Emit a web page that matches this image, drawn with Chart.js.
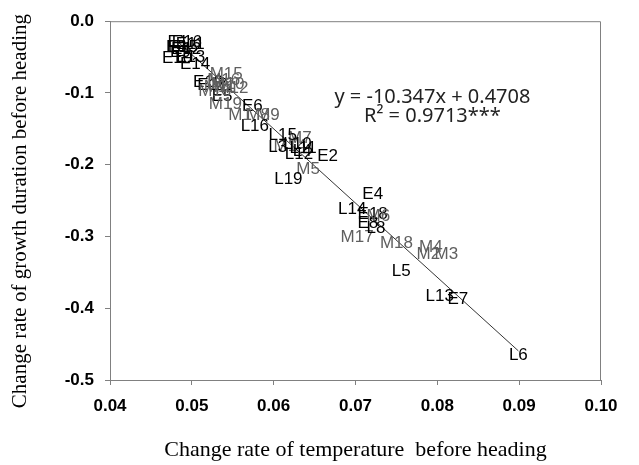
<!DOCTYPE html>
<html>
<head>
<meta charset="utf-8">
<script src="https://cdn.jsdelivr.net/npm/chart.js@4"></script>
<style>
  html, body { margin: 0; padding: 0; background: #fff; }
  #wrap { width: 639px; height: 465px; position: relative; }
</style>
</head>
<body>
<div id="wrap"><canvas id="chart_growthVsTemp"></canvas></div>
<script>
// early-heading group (black labels)
var eNames = ['E1','E16','E15','E3','E11','E12','E9','E13','E10','E14','E19','E17','E5','E6','E2','E4','E18','E8','E7'];
var eX = [0.0483,0.0494,0.0489,0.0481,0.0498,0.0493,0.0486,0.0498,0.0482,0.0504,0.0520,0.0525,0.0537,0.0574,0.0666,0.0721,0.0721,0.0715,0.0825];
var eY = [-0.0291,-0.0291,-0.0360,-0.0360,-0.0319,-0.0388,-0.0429,-0.0499,-0.0512,-0.0596,-0.0845,-0.0900,-0.1053,-0.1191,-0.1884,-0.2410,-0.2687,-0.2812,-0.3878];

// mid group (grey labels)
var mNames = ['M15','M16','M10','M11','M12','M13','M19','M1','M8','M9','M7','M14','M5','M6','M17','M18','M4','M2','M3'];
var mX = [0.0542,0.0539,0.0544,0.0534,0.0549,0.0528,0.0541,0.0559,0.0581,0.0593,0.0632,0.0620,0.0642,0.0728,0.0702,0.0750,0.0792,0.0789,0.0811];
var mY = [-0.0734,-0.0817,-0.0873,-0.0928,-0.0942,-0.0983,-0.1163,-0.1316,-0.1316,-0.1316,-0.1634,-0.1745,-0.2064,-0.2715,-0.3006,-0.3089,-0.3144,-0.3255,-0.3255];

// late group (black labels)
var lNames = ['L16','L15','L3','L10','L11','L12','L4','L19','L14','L8','L5','L13','L6'];
var lX = [0.0577,0.0611,0.0605,0.0629,0.0636,0.0631,0.0635,0.0618,0.0696,0.0725,0.0756,0.0803,0.0899];
var lY = [-0.1468,-0.1593,-0.1759,-0.1717,-0.1773,-0.1856,-0.1814,-0.2202,-0.2618,-0.2881,-0.3490,-0.3837,-0.4654];

// regression from the figure
var slope = -10.347;
var intercept = 0.4708;
var eqLine1 = 'y = -10.347x + 0.4708';
var eqLine2 = 'R\u00b2 = 0.9713***';
var eqPos = [0.0794, -0.1066, -0.1330];

function toPoints(xs, ys) {
    return xs.map(function (x, i) { return { x: x, y: ys[i] }; });
}

var allX = eX.concat(mX, lX);
var xLo = Math.min.apply(null, allX);
var xHi = Math.max.apply(null, allX);

var labelPlugin = {
    id: 'pointLabels',
    afterDatasetsDraw: function (chart) {
        var ctx = chart.ctx;
        ctx.save();
        ctx.font = '17px "Liberation Sans", Arial, sans-serif';
        ctx.textAlign = 'center';
        ctx.textBaseline = 'middle';
        chart.data.datasets.forEach(function (ds, i) {
            if (!ds.names) return;
            var meta = chart.getDatasetMeta(i);
            ctx.fillStyle = ds.labelColor;
            meta.data.forEach(function (pt, j) {
                ctx.fillText(ds.names[j], pt.x, pt.y);
            });
        });
        // equation box
        var xs = chart.scales.x, ys = chart.scales.y;
        ctx.fillStyle = '#222';
        ctx.font = '20px "Noto Sans", sans-serif';
        ctx.fillText(eqLine1, xs.getPixelForValue(eqPos[0]), ys.getPixelForValue(eqPos[1]));
        ctx.fillText(eqLine2, xs.getPixelForValue(eqPos[0]), ys.getPixelForValue(eqPos[2]));
        // frame
        var a = chart.chartArea;
        ctx.strokeStyle = '#808080';
        ctx.lineWidth = 1;
        ctx.beginPath();
        ctx.moveTo(a.left, a.top + 0.5);
        ctx.lineTo(a.right - 0.5, a.top + 0.5);
        ctx.lineTo(a.right - 0.5, a.bottom);
        ctx.stroke();
        ctx.restore();
    }
};

var chart_growthVsTemp = new Chart(document.getElementById('chart_growthVsTemp'), {
    type: 'scatter',
    data: {
        datasets: [
            {
                type: 'line',
                label: 'trend',
                data: [
                    { x: xLo, y: slope * xLo + intercept },
                    { x: xHi, y: slope * xHi + intercept }
                ],
                borderColor: '#000',
                borderWidth: 0.8,
                pointRadius: 0,
                fill: false
            },
            { label: 'E', names: eNames, labelColor: '#000', data: toPoints(eX, eY), pointRadius: 0 },
            { label: 'M', names: mNames, labelColor: '#5f5f5f', data: toPoints(mX, mY), pointRadius: 0 },
            { label: 'L', names: lNames, labelColor: '#000', data: toPoints(lX, lY), pointRadius: 0 }
        ]
    },
    options: {
        animation: false,
        responsive: true,
        maintainAspectRatio: false,
        layout: { padding: { top: 19, right: 38, left: 0, bottom: 0 } },
        plugins: {
            legend: { display: false },
            tooltip: { enabled: false }
        },
        scales: {
            x: {
                type: 'linear',
                min: 0.04,
                max: 0.10,
                afterFit: function (scale) { scale.height = 85; },
                border: { color: '#808080', width: 1 },
                grid: { drawOnChartArea: false, drawTicks: true, tickLength: 5, color: '#808080' },
                ticks: {
                    stepSize: 0.01,
                    padding: 11,
                    color: '#000',
                    font: { family: '"Liberation Sans", Arial, sans-serif', size: 17, weight: 'bold' },
                    callback: function (value) { return value.toFixed(2); }
                },
                title: {
                    display: true,
                    text: 'Change rate of temperature  before heading',
                    color: '#000',
                    font: { family: '"Liberation Serif", "Times New Roman", serif', size: 22 },
                    padding: { top: 0, bottom: 2 }
                }
            },
            y: {
                type: 'linear',
                min: -0.5,
                max: 0,
                afterFit: function (scale) { scale.width = 110; },
                border: { color: '#808080', width: 1 },
                grid: { drawOnChartArea: false, drawTicks: true, tickLength: 5, color: '#808080' },
                ticks: {
                    stepSize: 0.1,
                    padding: 11,
                    color: '#000',
                    font: { family: '"Liberation Sans", Arial, sans-serif', size: 17, weight: 'bold' },
                    callback: function (value) { return value.toFixed(1); }
                },
                title: {
                    display: true,
                    // trailing spaces nudge the rotated text down to where the original sits
                    text: 'Change rate of growth duration before heading    ',
                    color: '#000',
                    font: { family: '"Liberation Serif", "Times New Roman", serif', size: 21 },
                    padding: { top: 8, bottom: 0 }
                }
            }
        }
    },
    plugins: [labelPlugin, {
        id: 'whiteBg',
        beforeDraw: function (chart) {
            var ctx = chart.canvas.getContext('2d');
            ctx.save();
            ctx.globalCompositeOperation = 'destination-over';
            ctx.fillStyle = 'white';
            ctx.fillRect(0, 0, chart.canvas.width, chart.canvas.height);
            ctx.restore();
        }
    }]
});
</script>
</body>
</html>
